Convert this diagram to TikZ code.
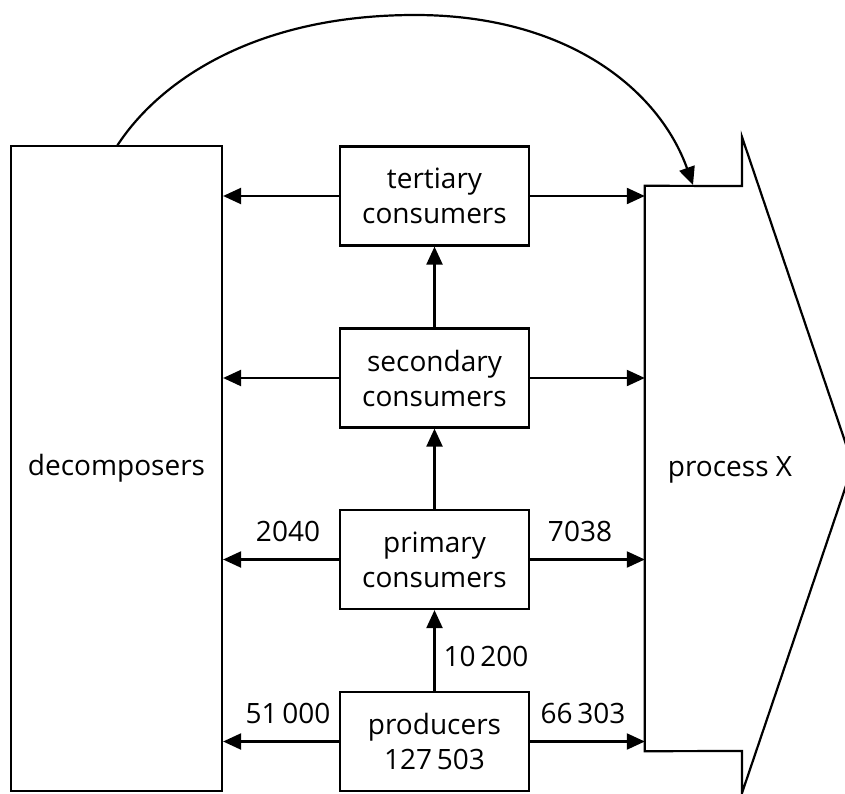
\documentclass[tikz,border=0pt]{standalone}
\usepackage{fontspec}
\setmainfont{Open Sans}
\usetikzlibrary{arrows.meta}
\begin{document}
\begin{tikzpicture}[x=1pt,y=-1pt,
  every node/.style={font=\fontsize{28}{35}\selectfont, inner sep=0pt},
  trophic/.style={draw, line width=2.2pt, minimum width=189pt, minimum height=99pt, align=center},
  flow/.style={line width=2.2pt, -{Triangle[length=18pt,width=16pt]}},
  outline/.style={line width=2.2pt, line join=miter}
]
\useasboundingbox (0,0) rectangle (845,794);
\clip (0,0) rectangle (845,794);
% decomposers
\node[draw, line width=2.2pt, minimum width=211pt, minimum height=645pt] (dec) at (116.5,468.5) {decomposers};
% process X
\node[minimum width=97pt, minimum height=565pt] (px) at (693.5,468.5) {};
\draw[outline] (px.north west) -- (742,186) -- (742,137) -- (853,465) -- (742,793) -- (742,751) -- (px.south west) -- cycle;
\node (pxlabel) at (730,470) {process X};
% trophic levels
\node[trophic] (ter) at (434.5,196) {tertiary\\consumers};
\node[trophic] (sec) at (434.5,378) {secondary\\consumers};
\node[trophic] (pri) at (434.5,559.5) {primary\\consumers};
\node[trophic] (pro) at (434.5,741.5) {producers\\127\,503};
% vertical flows
\draw[flow] (pro) -- (pri);
\draw[flow] (pri) -- (sec);
\draw[flow] (sec) -- (ter);
% horizontal flows
\foreach \n in {ter,sec,pri,pro}{
  \draw[flow] (\n.west) -- (\n.west -| dec.east);
  \draw[flow] (\n.east) -- (\n.east -| px.west);
}
% labels
\node (l1) at (288,531) {2040};
\node (l2) at (580,531) {7038};
\node (l3) at (486,656) {10\,200};
\node (l4) at (288,713) {51\,000};
\node (l5) at (583,713) {66\,303};
% recycling curve
\coordinate (cstart) at (117,146);
\coordinate (ctop) at (415,15);
\coordinate (cend) at (693,185);
\draw[flow] (cstart) .. controls (157,84) and (251,15) .. (ctop)
  .. controls (568,15) and (659,90) .. (cend);
\end{tikzpicture}
\end{document}
